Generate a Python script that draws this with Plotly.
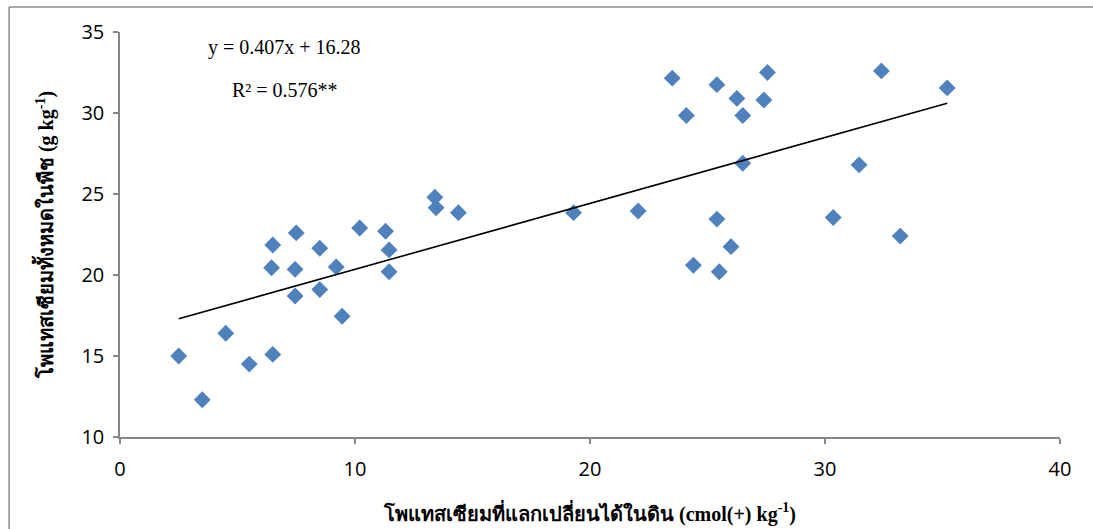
import plotly.graph_objects as go

# Exchangeable soil K (cmol(+)/kg) vs total plant K (g/kg)
soil_k = [2.5, 3.5, 4.5, 5.5, 6.5, 6.45, 6.5, 7.5, 7.45, 7.45, 8.5, 8.5, 9.2, 9.45,
          10.2, 11.3, 11.45, 11.45, 13.4, 13.45, 14.4, 19.3, 22.05,
          23.5, 24.1, 24.4, 25.4, 25.4, 25.5, 26.0, 26.25, 26.5, 26.5, 27.4, 27.55,
          30.35, 31.45, 32.4, 33.2, 35.2]
plant_k = [15.0, 12.3, 16.4, 14.5, 21.85, 20.45, 15.1, 22.6, 20.35, 18.7, 21.65, 19.1, 20.5, 17.45,
           22.9, 22.7, 21.55, 20.2, 24.8, 24.15, 23.85, 23.85, 23.95,
           32.15, 29.85, 20.6, 31.75, 23.45, 20.2, 21.75, 30.9, 29.85, 26.9, 30.8, 32.5,
           23.55, 26.8, 32.6, 22.4, 31.55]

slope, intercept = 0.407, 16.28
r2_label = "R² = 0.576**"
eq_label = "y = 0.407x + 16.28"

x_ticks = [0, 10, 20, 30, 40]
y_ticks = [10, 15, 20, 25, 30, 35]

x_title = "โพแทสเซียมที่แลกเปลี่ยนได้ในดิน (cmol(+) kg<sup>-1</sup>)"
y_title = "โพแทสเซียมทั้งหมดในพืช (g kg<sup>-1</sup>)"

fit_x = [min(soil_k), max(soil_k)]
fit_y = [slope * v + intercept for v in fit_x]

fig = go.Figure()
fig.add_trace(go.Scatter(
    x=soil_k, y=plant_k, mode="markers",
    marker=dict(symbol="diamond", size=13, color="#4F81BD", line=dict(width=0)),
    showlegend=False, hoverinfo="x+y"))
fig.add_trace(go.Scatter(
    x=fit_x, y=fit_y, mode="lines",
    line=dict(color="black", width=1.6),
    showlegend=False, hoverinfo="skip"))

axis_common = dict(
    showgrid=False, zeroline=False, showline=True, linecolor="#868686", linewidth=1.5,
    ticks="outside", tickcolor="#868686", ticklen=5, tickwidth=1.5, automargin=False,
    tickfont=dict(family="Open Sans, sans-serif", size=20, color="black"),
)
title_font = dict(family="Liberation Serif, Times New Roman, serif",
                  size=20, color="black", weight="bold")
note_font = dict(family="Liberation Serif, Times New Roman, serif", size=20, color="black")

fig.update_layout(
    width=1093, height=529,
    margin=dict(l=120, r=33, t=32, b=92),
    paper_bgcolor="white", plot_bgcolor="white",
    xaxis=dict(range=[0, 40], tickvals=x_ticks, ticklabelstandoff=8, **axis_common,
               title=dict(text=x_title, standoff=26, font=title_font)),
    yaxis=dict(range=[10, 35], tickvals=y_ticks, ticklabelstandoff=5, **axis_common,
               title=dict(text=y_title, standoff=22, font=title_font)),
    annotations=[
        dict(text=eq_label, x=7.0, y=34.05, xref="x", yref="y", showarrow=False, font=note_font),
        dict(text=r2_label, x=7.0, y=31.45, xref="x", yref="y", showarrow=False, font=note_font),
    ],
    shapes=[
        # chart frame (top and left edges)
        dict(type="line", xref="paper", yref="paper", x0=-0.118, x1=1.06, y0=1.062, y1=1.062,
             line=dict(color="#8c8c8c", width=1.5)),
        dict(type="line", xref="paper", yref="paper", x0=-0.118, x1=-0.118, y0=1.062, y1=-0.3,
             line=dict(color="#8c8c8c", width=1.5)),
    ],
)

fig.write_html("out.html")
